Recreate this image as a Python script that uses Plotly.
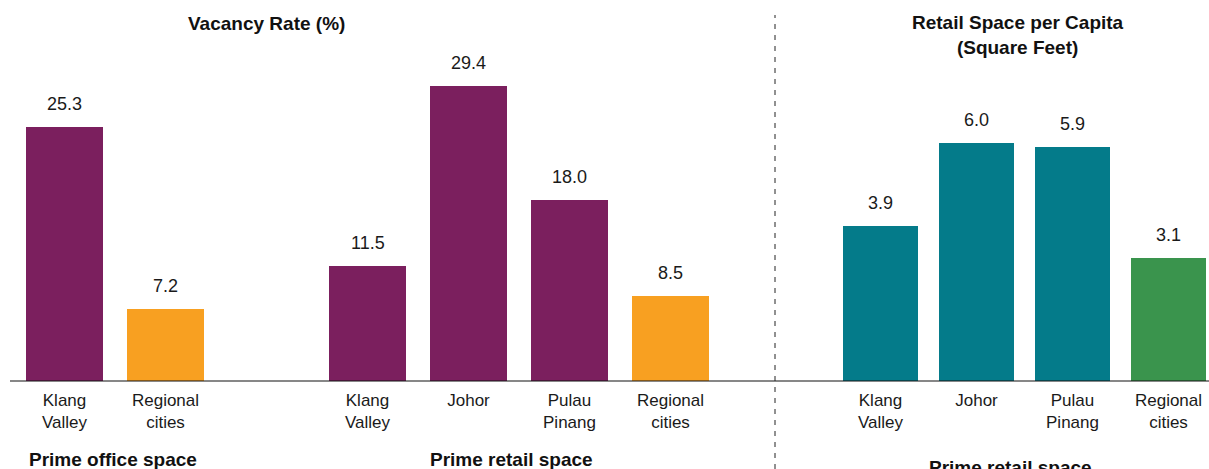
import plotly.graph_objects as go

# Vacancy rate (%) for prime office and prime retail space
vac_labels = ["Klang<br>Valley", "Regional<br>cities", "Klang<br>Valley", "Johor", "Pulau<br>Pinang", "Regional<br>cities"]
vac_pos = [0, 1, 3, 4, 5, 6]
vac_values = [25.3, 7.2, 11.5, 29.4, 18.0, 8.5]
vac_colors = ["#7B1F5E", "#F8A021", "#7B1F5E", "#7B1F5E", "#7B1F5E", "#F8A021"]

# Retail space per capita (square feet)
cap_labels = ["Klang<br>Valley", "Johor", "Pulau<br>Pinang", "Regional<br>cities"]
cap_pos = [0, 1, 2, 3]
cap_values = [3.9, 6.0, 5.9, 3.1]
cap_colors = ["#047B8A", "#047B8A", "#047B8A", "#3A944D"]

W, H = 1209, 469
FONT = "Liberation Sans, Arial, Helvetica, sans-serif"
split = 775 / W
base = (H - 381) / H

fig = go.Figure()
fig.add_trace(go.Bar(x=vac_pos, y=vac_values, marker=dict(color=vac_colors, line_width=0),
                     width=0.77, xaxis="x", yaxis="y", showlegend=False, hoverinfo="y"))
fig.add_trace(go.Bar(x=cap_pos, y=cap_values, marker=dict(color=cap_colors, line_width=0),
                     width=0.78, xaxis="x2", yaxis="y2", showlegend=False, hoverinfo="y"))

annotations = []
for p, v in zip(vac_pos, vac_values):
    annotations.append(dict(x=p, y=v, xref="x", yref="y", text=f"{v:.1f}", showarrow=False,
                            xanchor="center", yanchor="bottom", yshift=11,
                            font=dict(size=18, color="#1a1a1a", family=FONT)))
for p, v in zip(cap_pos, cap_values):
    annotations.append(dict(x=p, y=v, xref="x2", yref="y2", text=f"{v:.1f}", showarrow=False,
                            xanchor="center", yanchor="bottom", yshift=11,
                            font=dict(size=18, color="#1a1a1a", family=FONT)))


def caption(text, cx, cy):
    return dict(x=cx / W, y=1 - cy / H, xref="paper", yref="paper", text=f"<b>{text}</b>",
                showarrow=False, xanchor="center", yanchor="middle",
                font=dict(size=19, color="#111", family=FONT))


# Panel titles and group captions
annotations += [
    caption("Vacancy Rate (%)", 266, 24),
    caption("Retail Space per Capita<br>(Square Feet)", 1018, 35),
    caption("Prime office space", 113, 459),
    caption("Prime retail space", 511, 459),
    caption("Prime retail space", 1010, 467),
]

shapes = [
    dict(type="line", xref="paper", yref="paper", x0=10 / W, x1=1, y0=base, y1=base,
         line=dict(color="#111", width=1.2)),
    dict(type="line", xref="paper", yref="paper", x0=split, x1=split, y0=0, y1=1 - 15 / H,
         line=dict(color="#222", width=1, dash="5px,6px")),
]

tick_font = dict(size=17, color="#1a1a1a", family=FONT)

fig.update_layout(
    width=W, height=H,
    margin=dict(l=0, r=0, t=0, b=0),
    paper_bgcolor="white", plot_bgcolor="white",
    font=dict(family=FONT, size=16, color="#1a1a1a"),
    bargap=0,
    xaxis=dict(domain=[0, split], range=[-64.5 / 101, (775 - 64.5) / 101],
               tickvals=vac_pos, ticktext=vac_labels, showgrid=False, zeroline=False,
               showline=False, ticks="", tickfont=tick_font, ticklabelstandoff=7,
               anchor="y", fixedrange=True),
    xaxis2=dict(domain=[split, 1], range=[(775 - 880.5) / 96, (1209 - 880.5) / 96],
                tickvals=cap_pos, ticktext=cap_labels, showgrid=False, zeroline=False,
                showline=False, ticks="", tickfont=tick_font, ticklabelstandoff=7,
                anchor="y2", fixedrange=True),
    yaxis=dict(domain=[base, 1], range=[0, 381 / 10.04], visible=False, fixedrange=True),
    yaxis2=dict(domain=[base, 1], range=[0, 381 / 39.7], visible=False, fixedrange=True),
    annotations=annotations,
    shapes=shapes,
)

fig.write_html("out.html", config={"displayModeBar": False})
